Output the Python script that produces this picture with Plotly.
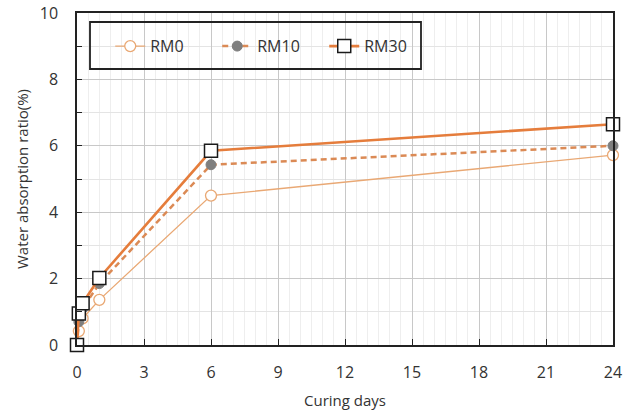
import plotly.graph_objects as go

days = [0, 0.083, 0.25, 1, 6, 24]
rm0 = [0, 0.42, 0.8, 1.36, 4.5, 5.72]
rm10 = [0, 0.7, 1.1, 1.85, 5.43, 6.0]
rm30 = [0, 0.95, 1.26, 2.02, 5.85, 6.65]
x_ticks = [0, 3, 6, 9, 12, 15, 18, 21, 24]
y_ticks = [0, 2, 4, 6, 8, 10]

FONT = "Open Sans"

fig = go.Figure()
fig.add_trace(go.Scatter(
    x=days, y=rm0, name="RM0", mode="lines+markers", cliponaxis=False,
    line=dict(color="#E9A874", width=1.3),
    marker=dict(symbol="circle", size=11, color="white",
                line=dict(color="#E9A874", width=1.3)),
))
fig.add_trace(go.Scatter(
    x=days, y=rm10, name="RM10", mode="lines+markers", cliponaxis=False,
    line=dict(color="#DB8A55", width=2.5, dash="6px,4px"),
    marker=dict(symbol="circle", size=10, color="#7F7F7F",
                line=dict(color="#7F7F7F", width=1)),
))
fig.add_trace(go.Scatter(
    x=days, y=rm30, name="RM30", mode="lines+markers", cliponaxis=False,
    line=dict(color="#E57D3C", width=2.6),
    marker=dict(symbol="square", size=13, color="white",
                line=dict(color="#1a1a1a", width=1.5)),
))

fig.update_layout(
    width=632, height=415,
    margin=dict(l=77, r=19, t=13, b=70, autoexpand=False),
    paper_bgcolor="white", plot_bgcolor="white",
    font=dict(family=FONT, size=14, color="#333333"),
    showlegend=True,
    legend=dict(
        orientation="h", x=0.062, y=0.90, xanchor="left", yanchor="middle",
        bgcolor="rgba(0,0,0,0)", borderwidth=0,
        font=dict(family=FONT, size=16, color="#333333"),
        entrywidth=62, entrywidthmode="pixels",
    ),
    xaxis=dict(
        range=[0, 24], tickvals=x_ticks, ticktext=[str(v) for v in x_ticks],
        showline=True, linecolor="#222222", linewidth=1.5, mirror=True,
        ticks="inside", ticklen=6, tickcolor="#222222", tickwidth=1.2,
        showgrid=True, gridcolor="#c8c8c8", gridwidth=1,
        minor=dict(dtick=0.5, tick0=0, showgrid=True, gridcolor="#eeeeee", gridwidth=1),
        zeroline=False, automargin=False,
        title=dict(text="Curing days", standoff=14, font=dict(size=15)),
        tickfont=dict(size=16),
        ticklabelstandoff=12,
    ),
    yaxis=dict(
        range=[0, 10], tickvals=y_ticks, ticktext=[str(v) for v in y_ticks],
        showline=True, linecolor="#222222", linewidth=1.5, mirror=True,
        ticks="inside", ticklen=5, tickcolor="#222222", tickwidth=1.2,
        showgrid=True, gridcolor="#c8c8c8", gridwidth=1,
        minor=dict(dtick=1, tick0=0, ticks="inside", ticklen=5, tickcolor="#222222",
                   showgrid=True, gridcolor="#e4e4e4", gridwidth=1),
        zeroline=False, automargin=False,
        title=dict(text="Water absorption ratio(%)", standoff=8, font=dict(size=15)),
        tickfont=dict(size=16),
        ticklabelstandoff=14,
    ),
    shapes=[dict(
        type="rect", xref="paper", yref="paper",
        x0=(90 - 77) / 536, x1=(421 - 77) / 536,
        y0=(345 - 69) / 332, y1=(345 - 22) / 332,
        line=dict(color="#222222", width=1.8), fillcolor="rgba(0,0,0,0)",
        layer="above",
    )],
)

fig.write_html("out.html")
